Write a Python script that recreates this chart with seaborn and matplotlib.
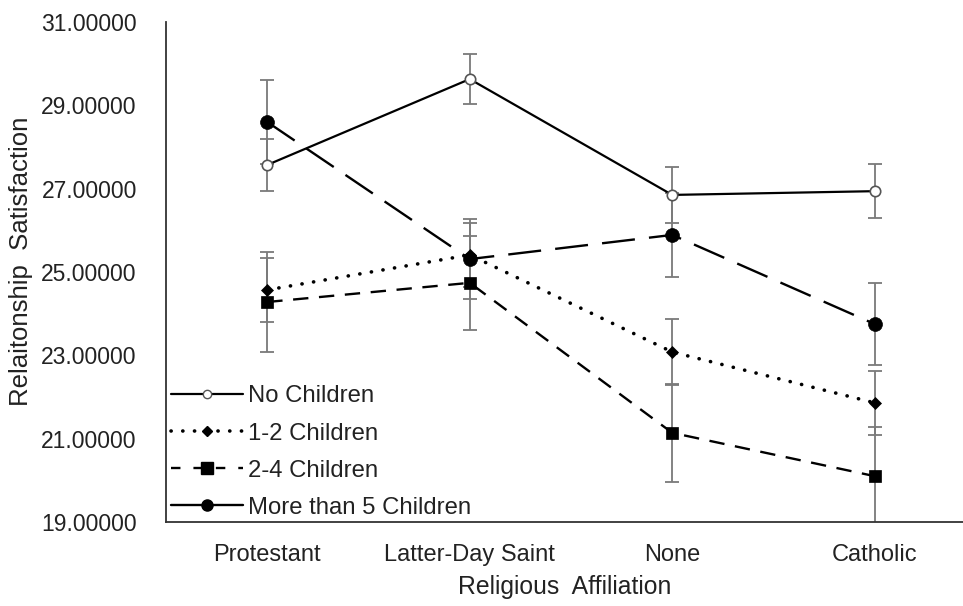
import numpy as np
import pandas as pd
import matplotlib
matplotlib.use("Agg")
import matplotlib.pyplot as plt
from matplotlib.lines import Line2D
import seaborn as sns

# Religious affiliation groups along the x axis
affiliations = ["Protestant", "Latter-Day Saint", "None", "Catholic"]

# Mean relationship satisfaction by number of children
no_children = [27.57, 29.63, 26.85, 26.94]
one_two_children = [24.57, 25.41, 23.08, 21.86]
two_four_children = [24.28, 24.74, 21.14, 20.10]
more_than_five = [28.60, 25.31, 25.89, 23.75]

# Error bar half-widths
no_children_err = [0.62, 0.60, 0.67, 0.65]
one_two_err = [0.77, 0.77, 0.79, 0.77]
two_four_err = [1.20, 1.13, 1.18, 1.18]
more_than_five_err = [1.00, 0.96, 1.00, 0.98]

series_names = ["No Children", "1-2 Children", "2-4 Children", "More than 5 Children"]
y_ticks = [19, 21, 23, 25, 27, 29, 31]

sns.set_theme(style="white")
plt.rcParams["font.family"] = ["Liberation Sans", "DejaVu Sans"]

fig = plt.figure(figsize=(9.63, 6.06), dpi=100)
W, H = 963, 606
ax = fig.add_axes([166 / W, (H - 522) / H, (W - 166) / W, (522 - 22) / H])

styles = {
    "No Children": dict(marker="o", mfc="white", mec="#555555", ms=7.5, mew=1.2,
                        dashes=None, lw=1.6, cap="butt"),
    "1-2 Children": dict(marker="D", mfc="black", mec="black", ms=6.5, mew=0.5,
                         dashes=(0.05, 3.2), lw=2.6, cap="round"),
    "2-4 Children": dict(marker="s", mfc="black", mec="black", ms=9, mew=0.5,
                         dashes=(6.5, 4.5), lw=1.7, cap="butt"),
    "More than 5 Children": dict(marker="o", mfc="black", mec="black", ms=10, mew=0.5,
                                 dashes=(14, 6), lw=1.7, cap="butt"),
}

values = [no_children, one_two_children, two_four_children, more_than_five]
errors = [no_children_err, one_two_err, two_four_err, more_than_five_err]

positions = np.arange(len(affiliations))

# Error bars first, lines and markers drawn on top
for vals, errs in zip(values, errors):
    ax.errorbar(positions, vals, yerr=errs, fmt="none", ecolor="#7a7a7a",
                elinewidth=1.3, capsize=4.7, capthick=1.3, zorder=1)

for name, vals in zip(series_names, values):
    st = styles[name]
    df = pd.DataFrame({"Religious Affiliation": positions, "score": vals})
    sns.lineplot(data=df, x="Religious Affiliation", y="score", ax=ax,
                 color="black", marker=st["marker"], markerfacecolor=st["mfc"],
                 markeredgecolor=st["mec"], markersize=st["ms"],
                 markeredgewidth=st["mew"], linewidth=st["lw"],
                 sort=False, legend=False, zorder=3)
    line = ax.lines[-1]
    if st["dashes"] is not None:
        line.set_dashes(st["dashes"])
    line.set_dash_capstyle(st["cap"])

ax.set_xlim(-0.5, -0.5 + (W - 166) / 202.5)
ax.set_ylim(19, 31)
ax.set_xticks(positions)
ax.set_xticklabels(affiliations)
ax.set_yticks(y_ticks)
ax.set_yticklabels([f"{t:.5f}" for t in y_ticks])
ax.tick_params(axis="y", length=0, pad=21, labelsize=16.5, labelcolor="#222222")
ax.tick_params(axis="x", length=0, pad=15.5, labelsize=17, labelcolor="#222222")

ax.set_xlabel("Religious  Affiliation", fontsize=17.8, color="#222222", labelpad=7)
ax.set_ylabel("Relaitonship  Satisfaction", fontsize=18.5, color="#222222")
ax.yaxis.set_label_coords(-0.167, 0.522)

for side in ["top", "right"]:
    ax.spines[side].set_visible(False)
for side in ["left", "bottom"]:
    ax.spines[side].set_color("#333333")
    ax.spines[side].set_linewidth(1.3)
ax.grid(False)

# Legend entries: the last one is shown with a solid line
handles = [
    Line2D([], [], color="black", lw=1.6, marker="o", mfc="white", mec="#555555",
           ms=6, mew=1.0),
    Line2D([], [], color="black", lw=2.6, marker="D", ms=5, dashes=(0.05, 3.2),
           dash_capstyle="round"),
    Line2D([], [], color="black", lw=1.7, marker="s", ms=8, dashes=(4, 5.5)),
    Line2D([], [], color="black", lw=1.7, marker="o", ms=8),
]
leg = ax.legend(handles, series_names, loc="lower left",
                bbox_to_anchor=(169 / W, (H - 521) / H), bbox_transform=fig.transFigure,
                frameon=False, fontsize=17.2, handlelength=3.0, handletextpad=0.2,
                labelspacing=0.63, borderpad=0.1, borderaxespad=0)
for t in leg.get_texts():
    t.set_color("#222222")

fig.savefig("out.png", dpi=100)
